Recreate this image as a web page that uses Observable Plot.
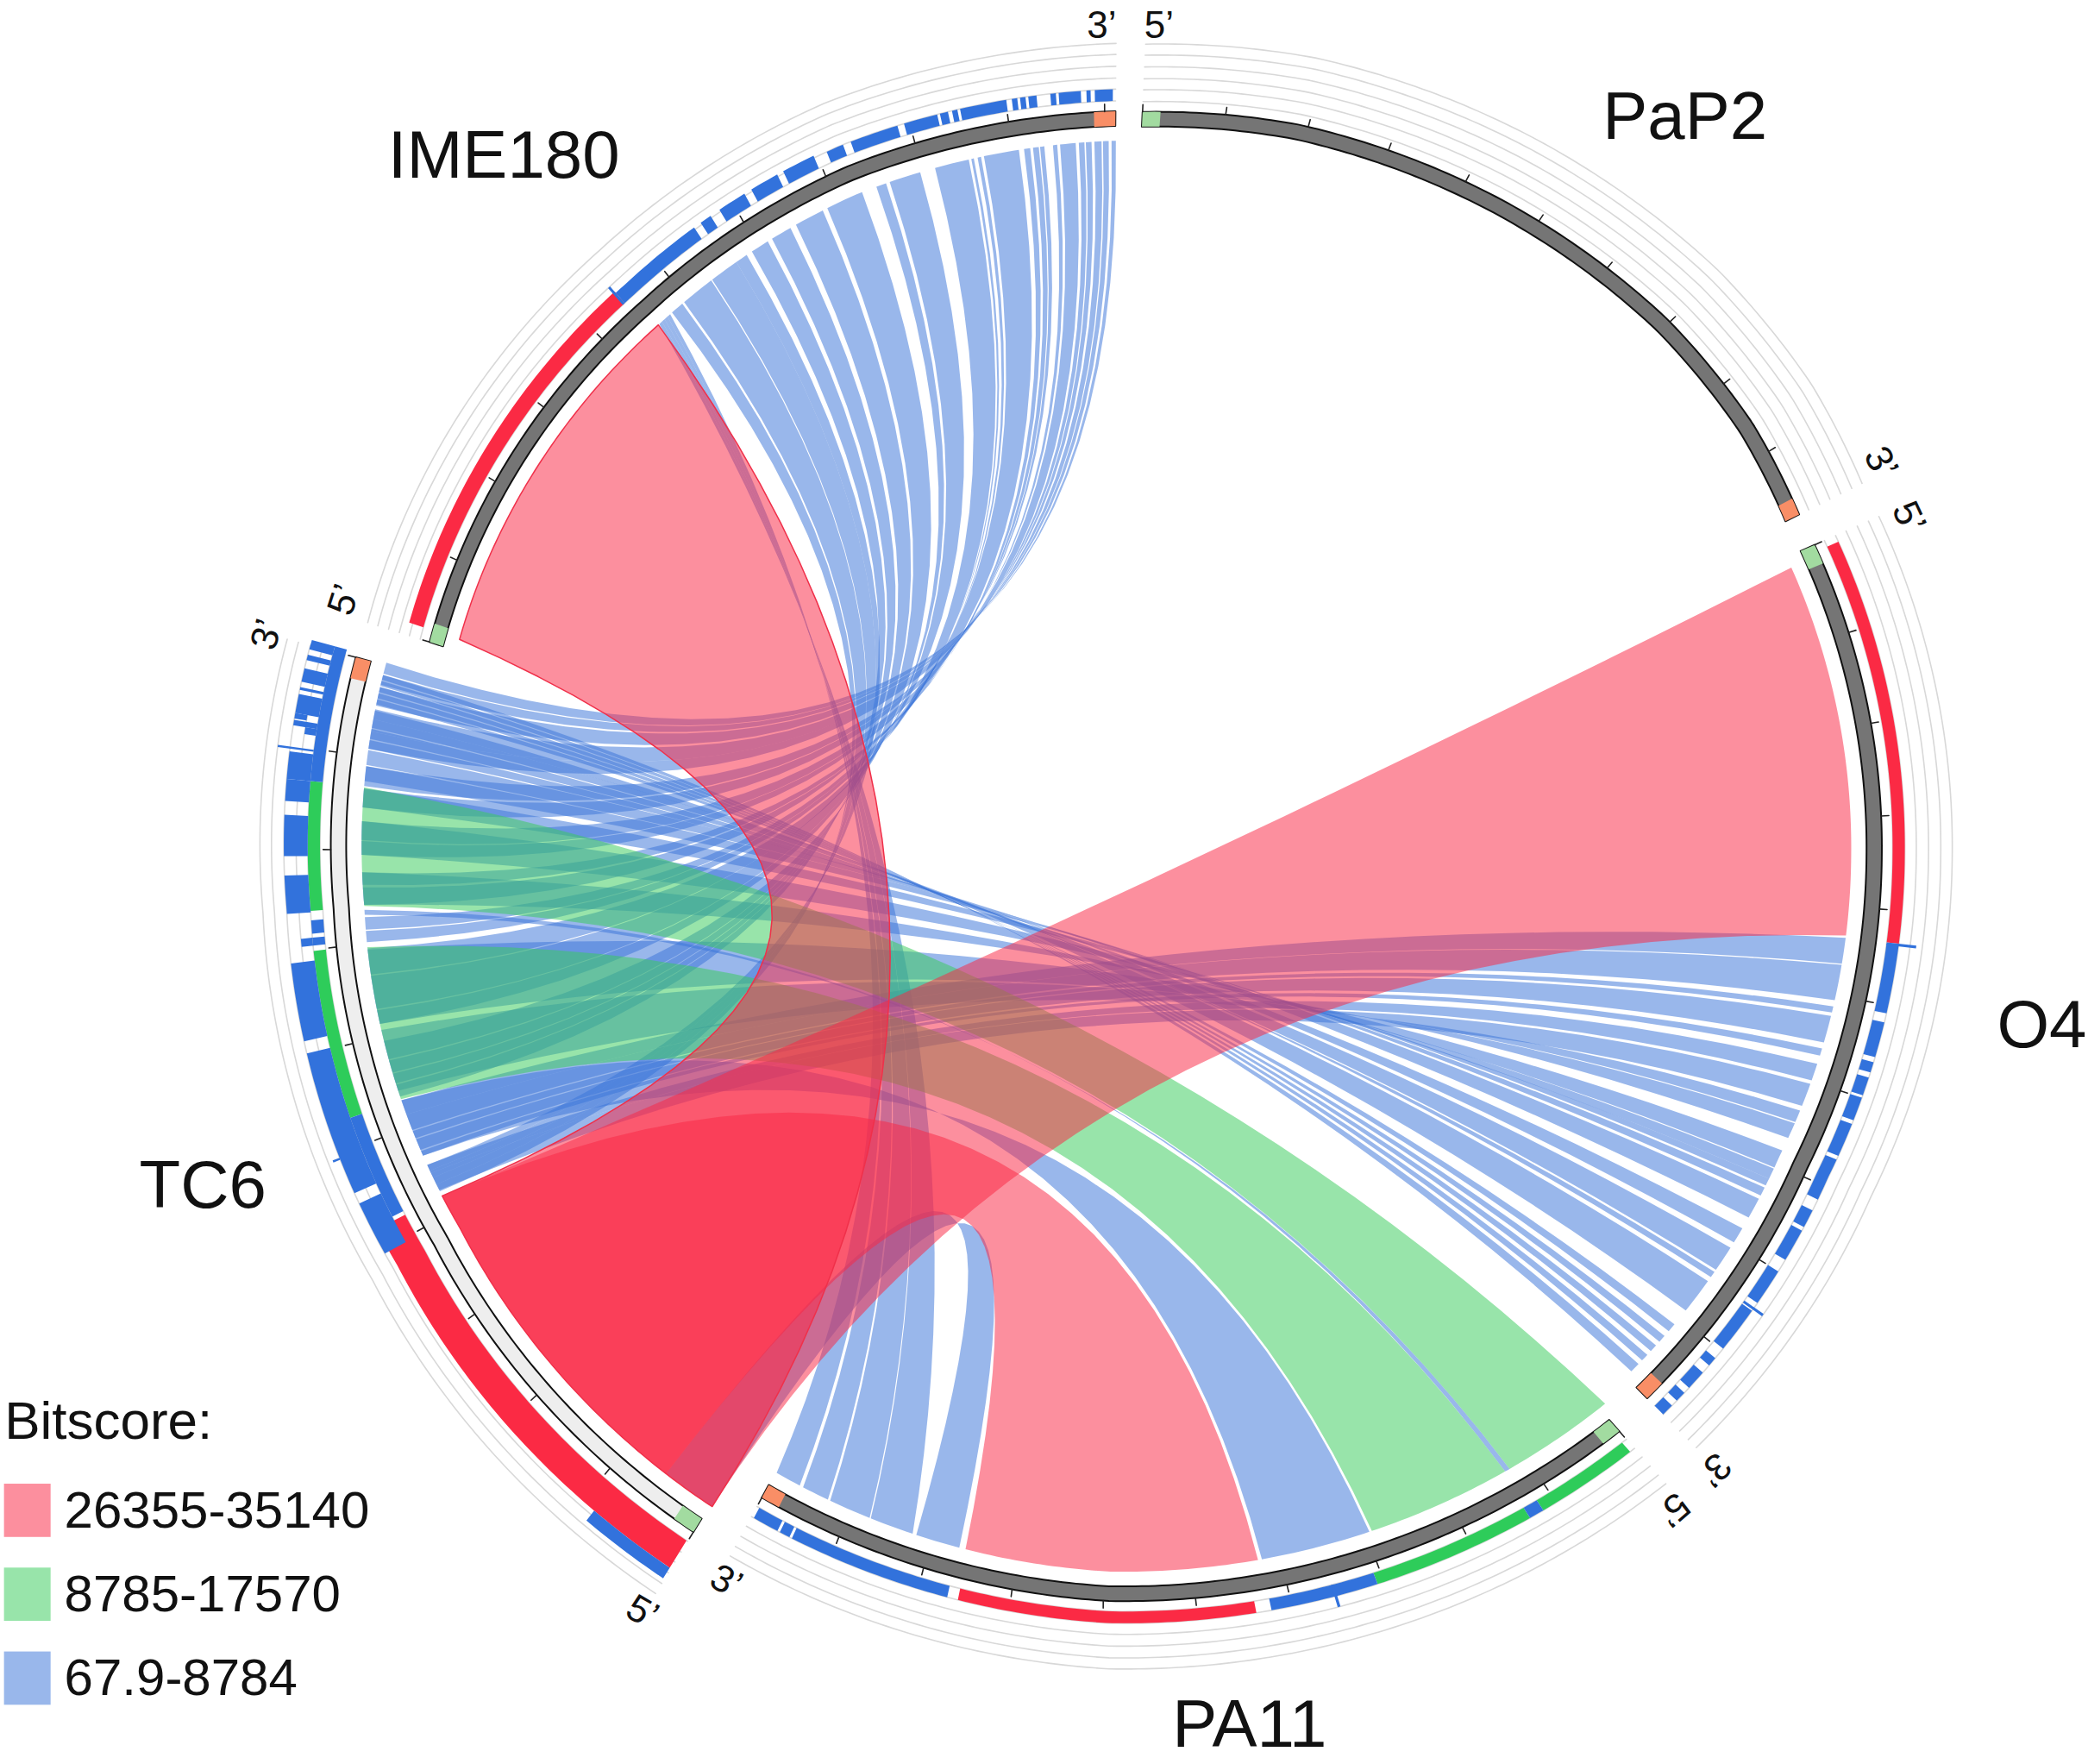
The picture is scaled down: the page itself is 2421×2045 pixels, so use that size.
<!DOCTYPE html>
<html><head><meta charset="utf-8">
<script src="https://cdn.jsdelivr.net/npm/d3@7"></script>
<script src="https://cdn.jsdelivr.net/npm/@observablehq/plot@0.6"></script>
<style>html,body{margin:0;background:#fff}svg{display:block}</style>
</head><body><div id="chart"></div>
<script>
// ---- sectors: name, start angle, end angle, band colour, tick step, radial warp [[t,k]...]
const sectors = [
  {name:"PaP2", t0:2.5, t1:62.7, band:"#757575", step:6.1, warp:[[2.5,1],[8,1.006],[14,1.012],[30,1.016],[45,1.018],[55,1.012],[62.7,1]]},
  {name:"O4", t0:65.3, t1:136.4, band:"#757575", step:7.2, warp:[[65.3,1],[90,.995],[115,.992],[136.4,1.005]]},
  {name:"PA11", t0:139.6, t1:207.4, band:"#757575", step:6.8, warp:[[139.6,1.014],[180,1],[207.4,.97]]},
  {name:"TC6", t0:210.5, t1:285.4, band:"#eeeeee", step:7.5, warp:[[210.5,1.053],[239,1.013],[255,1.005],[266,1],[285.4,1.005]]},
  {name:"IME180", t0:288.2, t1:360.5, band:"#757575", step:7.15, warp:[[288.2,.92],[321,.957],[340,.985],[360.5,1]]}
];
const RED="#f92945", GREEN="#39cb5c", BLUE="#3b75d9";
const trackRed="#fb2a44", trackGreen="#2ecc5a", trackBlue="#3272dc";

// ---- histogram track cells: [t0,t1,level from,level to,colour] (levels between grid rings)
const o4Track = [
 [65.8,96.6,0,1,"r"],[96.7,101.9,0,1,"b"],[102.6,105.3,0,1,"b"],[105.7,106.5,0,1,"b"],[106.9,108.3,0,1,"b"],[108.5,110.3,0,1,"b"],
 [110.6,113.2,0,1,"b"],[113.5,116.8,0,1,"b"],[117.7,119.1,0,1,"b"],[119.4,121.9,0,1,"b"],[122.9,125.7,0,1,"b"],[126.4,129.9,0,1,"b"],
 [130.8,131.5,0,1,"b"],[132.2,133.7,0,1,"b"],[134.2,135,0,1,"b"],[135.5,136.4,0,1,"b"],
 [96.6,96.8,0,2.5,"b"],[126.1,126.3,0,2,"b"]
];
const pa11Track = [
 [140,147.5,0,1,"g"],[147.5,148.6,0,1,"b"],[148.6,160.5,0,1,"g"],[160.5,168.3,0,1,"b"],[169.4,191,0,1,"r"],[191.8,204,0,1,"b"],[204.2,205,0,1,"b"],[205.2,207.2,0,1,"b"],
 [163.5,163.7,0,2,"b"]
];
const imeTrack = [
 [289.2,320,0,1.35,"r"],[320,327.7,0,1.2,"b"],[328.3,329.2,0,1.2,"b"],[330,332.2,0,1.2,"b"],[332.8,335,0,1.2,"b"],[335.5,338,0,1.2,"b"],
 [339,340.3,0,1,"b"],[340.9,344.5,0,1,"b"],[345,347.5,0,1,"b"],[347.7,348.3,0,1,"b"],[348.6,349,0,1,"b"],[349.2,352.6,0,1,"b"],
 [353,353.4,0,1,"b"],[353.6,354,0,1,"b"],[354.2,354.8,0,1,"b"],[355.8,356.2,0,1,"b"],[356.4,358,0,1,"b"],[358.4,358.7,0,1,"b"],[359,360.3,0,1,"b"],
 [319.8,320,0,2,"b"]
];
const tc6Track = [
 [210.6,242,0,2.6,"r"],[210.6,217,2.6,3.6,"b"],[242.3,250.2,0,1,"b"],
 [250.2,262.9,0,1,"g"],[263.3,263.9,0,1,"b"],[264.2,265.2,0,1,"b"],[265.9,275.6,0,1,"g"],[275.6,285.8,0,1,"b"],
 [240.2,244.2,1,3,"b"],[245,255.6,1,3,"b"],[256.5,262.2,1,3,"b"],[263.3,263.9,1,2,"b"],
 [265.8,268.6,1,3,"b"],[270,273,1,3,"b"],[274,275.6,1,3,"b"],
 [275.6,277.6,1,3,"b"],[279,279.5,1,2,"b"],[279.5,279.9,1,3,"b"],[280,280.4,2,3,"b"],[280.4,281.8,1,3,"b"],
 [282.1,282.3,1,3,"b"],[282.7,283.7,1,3,"b"],[284.3,284.7,1,3,"b"],[285.1,285.8,1,3,"b"],
 [277.8,277.95,1,4,"b"],[247.6,247.75,3,3.6,"b"]
];

// ---- ribbons: [a0,a1,b0,b1] edges join a0-b0 and a1-b1
const pinkRibbons = [[289.2,320.9,242,210.3],[66.2,96.4,242,210.3],[168.5,191.2,242,214.5]];
const greenRibbons = [[139,147.9,275.5,266],[148.3,159.5,262.7,250.3]];
const imeBlue = [
 [322.4,323.5,242.4,243],[323.7,326.5,243,243.6],[326.6,329,243.6,244.2],[329,330,244.2,244.7],[330.5,332,250.5,251.5],[332.4,334.1,251.6,252.4],[334.6,337,252.5,253.5],[337.4,340.4,253.6,255.1],
 [341.6,342.4,256.5,257.6],[342.7,345.2,257.7,260.4],[346.4,349.1,260.5,262.6],[349.3,349.5,263.1,264],[349.8,350.07,264.1,265.1],
 [350.3,353.05,266.1,267.5],[353.45,353.93,267.7,268.7],[354.15,354.6,270.1,271.2],[354.7,355.03,271.3,272.8],[355.7,356.03,273.9,275.4],
 [356.25,357.46,275.6,277.2],[357.7,358.13,278.6,280],[358.24,358.68,280,281.8],[358.9,359.45,282.1,283.6],[359.56,360,283.8,284.6],[360.22,360.55,284.7,285.6]
];
const imePa11Blue = [[321,321.3,195.5,199],[321.3,321.6,199.1,202.5],[321.6,321.9,202.7,204.9],[321.9,322.2,205.2,207.3]];
const pa11Tc6Blue = [[191.7,195.2,210.3,214.5],[159.7,168.2,245.5,250.2],[147.9,148.3,265.3,265.7]];
const o4Blue = [
 [96.6,98.7,250.2,249],[98.8,101.7,249,247.7],[102.2,102.7,247.6,247],[103,105.2,246.9,246],[105.7,106.3,245.9,245.5],[107,108.4,244.7,244],[108.7,110.6,244,242.5],
 [111,112,251,256],[112.1,113.4,256.5,262.5],[114.5,116,266.1,268.7],[116.1,117,270.1,272.8],[117,117.6,273.9,275.4],
 [117.8,118.5,276,277.2],[118.8,120.5,277.3,278.5],[121.5,122.8,278.6,279.3],[123.3,125.4,279.4,280.2],[125.6,126.1,280.3,281],[126.5,129.4,281,281.7],
 [130.8,131.5,282.2,282.6],[132,132.6,282.7,283.1],[133,133.6,283.2,283.6],[134,134.6,283.7,284.1],[135,135.8,284.2,284.6]
];

// ---- labels
const names = [["PaP2",1265,88,5],["IME180",378,117,7],["TC6",152,890,6],["O4",1533,770,5],["PA11",938,1295,6]];
const endLabels = [
 ["3’",827,19,0],["5’",870,19,0],["3’",1412,347,62],["5’",1433,388,65],
 ["3’",1287,1103,135],["5’",1256,1133,139],["3’",545,1187,27],["5’",482,1210,30],
 ["5’",258,450,288],["3’",200,476,285]
];
const legendTitle = "Bitscore:";
const legendRows = [["26355-35140",RED],["8785-17570",GREEN],["67.9-8784",BLUE]];
const legendY = [1134,1197,1260];

// ---- geometry helpers (normalised: radius 1 = middle of grey band)
const CX=1285, CY=992, RX=892, RY=855, DISP=2421/1568;
const CTRL=[-0.02,-0.086], CTRL_BLUE=[0.022,-0.059], CTRL_PA=[-0.125,-0.104], GRID=[1.024,1.04,1.055,1.071,1.087,1.102], BAND=[.99,1.01], RIB=.97;
const level=d3.scaleLinear().domain(GRID.map((d,i)=>i)).range(GRID);
const secOf = t => sectors.find(s => t>=s.t0-1.5 && t<=s.t1+1.5);
function warpK(s,t){ const w=s.warp; return d3.scaleLinear().domain(w.map(d=>d[0])).range(w.map(d=>d[1])).clamp(true)(t); }
function pt(t,r){ const s=secOf(t), k=s?warpK(s,t):1, a=t*Math.PI/180; return [r*k*Math.sin(a), r*k*Math.cos(a)]; }
function arc(t0,t1,r){ const n=Math.max(2,Math.ceil(Math.abs(t1-t0)/.5)), o=[]; for(let i=0;i<=n;i++) o.push(pt(t0+(t1-t0)*i/n,r)); return o; }
function bez(p,q,C){ const o=[]; for(let i=1;i<30;i++){const u=i/30,v=1-u; o.push([v*v*p[0]+2*u*v*C[0]+u*u*q[0], v*v*p[1]+2*u*v*C[1]+u*u*q[1]]);} return o; }
function ribbon([a0,a1,b0,b1],C=CTRL){ const A=arc(a0,a1,RIB), B=arc(b1,b0,RIB); return [...A,...bez(A[A.length-1],B[0],C),...B,...bez(B[B.length-1],A[0],C)]; }
function cell(t0,t1,r0,r1){ return [...arc(t0,t1,r0),...arc(t1,t0,r1)]; }
const rows=(polys,key)=>polys.flatMap((p,i)=>[...p,p[0]].map(d=>({x:d[0],y:d[1],z:key+i})));
const px=x=>(x-CX)/RX, py=y=>(CY-y)/RY;
const dpx=x=>px(x*DISP), dpy=y=>py(y*DISP);

const allTrack=[...o4Track,...pa11Track,...imeTrack,...tc6Track];
const trackRows=c=>rows(allTrack.filter(d=>d[4]===c).map(d=>cell(d[0],d[1],level(d[2]),level(d[3]))),"t"+c);
const fillLine=(data,fill,extra={})=>Plot.line(data,{x:"x",y:"y",z:"z",fill,stroke:"none",curve:"linear",...extra});

const ringRows=sectors.flatMap(s=>GRID.flatMap((r,i)=>arc(s.t0,s.t1,r).map(d=>({x:d[0],y:d[1],z:s.name+i}))));
const bandRows=c=>rows(sectors.filter(s=>s.band===c).map(s=>cell(s.t0,s.t1,BAND[0],BAND[1])),"b"+c);
const capGreen=rows(sectors.map(s=>cell(s.t0,s.t0+(s.t1-s.t0)*.022,BAND[0],BAND[1])),"cg");
const capOrange=rows(sectors.map(s=>cell(s.t1-(s.t1-s.t0)*.022,s.t1,BAND[0],BAND[1])),"co");
const tickRows=sectors.flatMap(s=>d3.range(s.t0,s.t1+.5,s.step).flatMap((t,i)=>{const a=pt(Math.min(t,s.t1),BAND[1]),b=pt(Math.min(t,s.t1),1.02);return [{x:a[0],y:a[1],z:s.name+i},{x:b[0],y:b[1],z:s.name+i}];}));

const swatch=legendY.map((y,i)=>({x1:dpx(3),x2:dpx(38),y1:dpy(y-20),y2:dpy(y+20),c:legendRows[i][1]}));
const blueRibbons=[
  ...imeBlue.map(r=>ribbon(r,CTRL_BLUE)),
  ...o4Blue.map(r=>ribbon(r,CTRL_BLUE)),
  ...imePa11Blue.map(r=>ribbon(r,CTRL_PA)),
  ...pa11Tc6Blue.map(r=>ribbon(r))
];

const chart=Plot.plot({
  width:2421,height:2045,margin:0,axis:null,
  style:{background:"#fff"},
  x:{domain:[px(0),px(2421)],range:[0,2421]},
  y:{domain:[py(0),py(2045)],range:[0,2045]},
  marks:[
    Plot.line(ringRows,{x:"x",y:"y",z:"z",stroke:"#d8d8d8",strokeWidth:1.6}),
    fillLine(trackRows("r"),trackRed),fillLine(trackRows("g"),trackGreen),fillLine(trackRows("b"),trackBlue),
    fillLine(bandRows("#757575"),"#757575",{stroke:"#111",strokeWidth:2}),
    fillLine(bandRows("#eeeeee"),"#eeeeee",{stroke:"#111",strokeWidth:2}),
    fillLine(capGreen,"#a2dba0"),fillLine(capOrange,"#f98e66"),
    Plot.line(tickRows,{x:"x",y:"y",z:"z",stroke:"#222",strokeWidth:1.6}),
    fillLine(rows(blueRibbons,"bl"),BLUE,{fillOpacity:.52}),
    fillLine(rows(greenRibbons.map(r=>ribbon(r)),"gr"),GREEN,{fillOpacity:.52}),
    fillLine(rows(pinkRibbons.map(r=>ribbon(r)),"pk"),RED,{fillOpacity:.52}),
    Plot.line(rows([pinkRibbons[0]].map(r=>ribbon(r)),"pe"),{x:"x",y:"y",z:"z",stroke:"#f0304a",strokeWidth:1.5}),
    ...names.map(d=>Plot.text([d],{x:dpx(d[1]),y:dpy(d[2]),text:r=>r[0],fontSize:78,fontFamily:"Liberation Sans",fill:"#111",style:{letterSpacing:d[3]+"px"}})),
    Plot.text(endLabels,{x:d=>dpx(d[1]),y:d=>dpy(d[2]),text:d=>d[0],rotate:d=>d[3],fontSize:44,fontFamily:"Liberation Sans",fill:"#111"}),
    Plot.rect(swatch,{x1:"x1",x2:"x2",y1:"y1",y2:"y2",fill:"c",fillOpacity:.52}),
    Plot.text([legendTitle],{x:dpx(3),y:dpy(1067),text:d=>d,textAnchor:"start",fontSize:62,fontFamily:"Liberation Sans",fill:"#111",style:{letterSpacing:"10px"}}),
    Plot.text(legendRows,{x:dpx(48),y:(d,i)=>dpy(legendY[i]),text:d=>d[0],textAnchor:"start",fontSize:60,fontFamily:"Liberation Sans",fill:"#111"})
  ]
});
document.getElementById("chart").append(chart);
</script></body></html>
